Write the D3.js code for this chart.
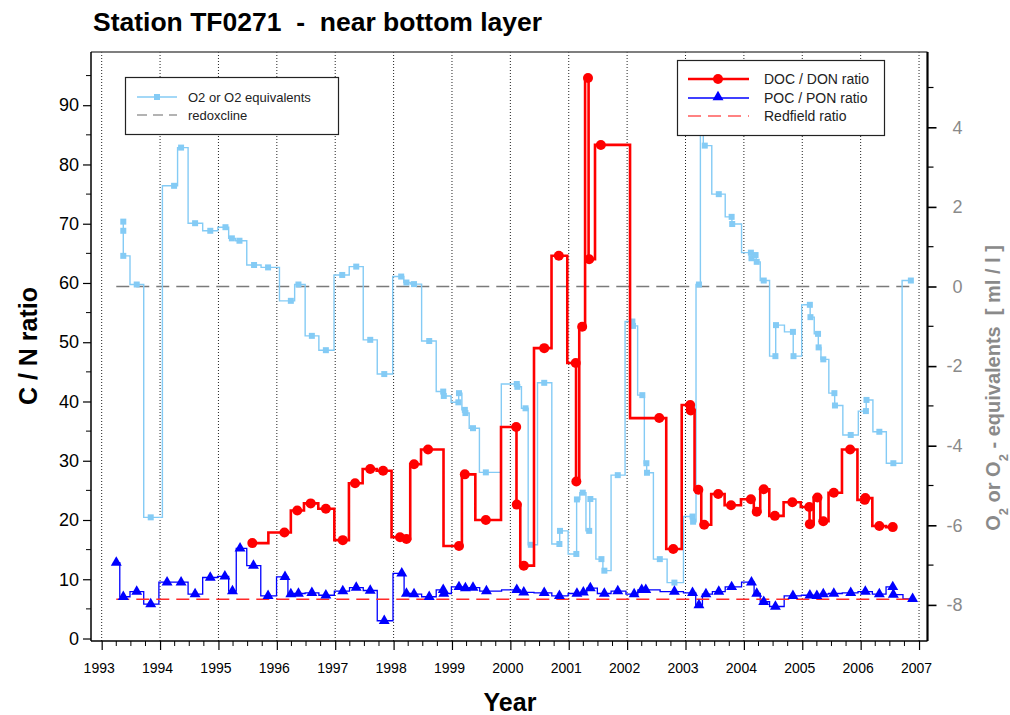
<!DOCTYPE html>
<html>
<head>
<meta charset="utf-8">
<script src="https://cdn.jsdelivr.net/npm/d3@7"></script>
<style>
  html, body { margin: 0; padding: 0; background: #fff; }
  svg { display: block; }
  text { font-family: "Liberation Sans", Arial, sans-serif; white-space: pre; }
</style>
</head>
<body>
<svg id="chart" width="1010" height="715"></svg>
<script>
// ---- data: station TF0271, near-bottom layer ----
// DOC / DON ratio (decimal year, C/N)
const docYears = [1995.58, 1996.13, 1996.35, 1996.58, 1996.84, 1997.13, 1997.34, 1997.60, 1997.82,
  1998.11, 1998.22, 1998.35, 1998.59, 1999.12, 1999.22, 1999.58, 2000.10, 2000.11, 2000.23,
  2000.58, 2000.83, 2001.12, 2001.13, 2001.23, 2001.33, 2001.35, 2001.55, 2002.55, 2002.79,
  2003.08, 2003.09, 2003.22, 2003.32, 2003.56, 2003.78, 2004.12, 2004.22, 2004.34, 2004.53,
  2004.83, 2005.12, 2005.13, 2005.26, 2005.36, 2005.54, 2005.82, 2006.07, 2006.08, 2006.32, 2006.55];
const docValues = [16.1, 17.9, 21.6, 22.8, 21.9, 16.6, 26.2, 28.6, 28.3,
  17.1, 16.8, 29.4, 31.9, 15.6, 27.7, 20.0, 35.7, 22.6, 12.3,
  49.0, 64.6, 46.5, 26.5, 52.6, 94.6, 64.0, 83.3, 37.2, 15.1,
  39.4, 38.5, 25.1, 19.2, 24.4, 22.5, 23.5, 21.4, 25.2, 20.7,
  23.0, 22.2, 19.3, 23.8, 19.8, 24.6, 31.9, 23.4, 23.7, 19.0, 18.8];

// POC / PON ratio (decimal year, C/N)
const pocYears = [1993.25, 1993.37, 1993.60, 1993.84, 1994.12, 1994.36, 1994.60, 1994.86, 1995.11,
  1995.24, 1995.37, 1995.60, 1995.85, 1996.14, 1996.24, 1996.37, 1996.60, 1996.84, 1997.13,
  1997.36, 1997.60, 1997.84, 1998.14, 1998.22, 1998.35, 1998.61, 1998.85, 1998.86, 1999.12,
  1999.23, 1999.36, 1999.59, 2000.11, 2000.23, 2000.58, 2000.84, 2001.14, 2001.25, 2001.37,
  2001.61, 2001.84, 2002.12, 2002.25, 2002.32, 2002.81, 2003.12, 2003.23, 2003.35, 2003.57,
  2003.79, 2004.13, 2004.22, 2004.34, 2004.54, 2004.84, 2005.13, 2005.25, 2005.36, 2005.54,
  2005.83, 2006.08, 2006.32, 2006.55, 2006.56, 2006.89];
const pocValues = [12.8, 7.05, 7.9, 5.8, 9.5, 9.5, 7.5, 10.3, 10.5,
  8.0, 15.2, 12.3, 7.2, 10.4, 7.5, 7.6, 7.7, 7.3, 8.0,
  8.6, 8.1, 3.0, 11.0, 7.6, 7.5, 7.05, 8.2, 7.6, 8.7,
  8.5, 8.6, 8.0, 8.2, 7.8, 7.7, 7.2, 7.6, 7.8, 8.5,
  7.6, 8.0, 7.5, 8.2, 8.2, 7.9, 7.7, 5.65, 7.5, 7.9,
  8.7, 9.5, 7.6, 6.2, 5.4, 7.2, 7.3, 7.2, 7.5, 7.6,
  7.7, 7.9, 7.5, 8.7, 7.4, 6.7];

// O2 or O2 equivalents (decimal year, ml/l)
const o2Years = [1993.37, 1993.37, 1993.37, 1993.60, 1993.84, 1994.24, 1994.36, 1994.60, 1994.86,
  1995.12, 1995.23, 1995.36, 1995.61, 1995.85, 1996.24, 1996.37, 1996.60, 1996.84, 1997.12,
  1997.36, 1997.60, 1997.84, 1998.13, 1998.22, 1998.35, 1998.61, 1998.85, 1998.86, 1999.11,
  1999.12, 1999.22, 1999.23, 1999.36, 1999.58, 2000.11, 2000.12, 2000.26, 2000.35, 2000.58,
  2000.84, 2000.85, 2001.13, 2001.14, 2001.24, 2001.35, 2001.37, 2001.56, 2001.61, 2001.84,
  2002.09, 2002.10, 2002.26, 2002.33, 2002.34, 2002.56, 2002.81, 2003.12, 2003.13, 2003.23,
  2003.28, 2003.33, 2003.57, 2003.79, 2003.80, 2004.12, 2004.13, 2004.20, 2004.22, 2004.34,
  2004.54, 2004.55, 2004.84, 2004.85, 2005.13, 2005.14, 2005.27, 2005.28, 2005.36, 2005.55,
  2005.56, 2005.83, 2006.09, 2006.10, 2006.32, 2006.56, 2006.86];
const o2Values = [1.63, 1.40, 0.77, 0.05, -5.80, 2.53, 3.49, 1.59, 1.40,
  1.49, 1.21, 1.15, 0.54, 0.48, -0.36, 0.05, -1.24, -1.60, 0.29,
  0.50, -1.34, -2.20, 0.25, 0.10, 0.06, -1.37, -2.64, -2.75, -2.91,
  -2.68, -3.10, -3.18, -3.56, -4.67, -2.45, -2.52, -3.06, -6.49, -2.42,
  -6.47, -6.14, -6.72, -5.35, -5.18, -6.14, -5.34, -6.85, -7.14, -4.74,
  -0.88, -0.99, -2.73, -4.44, -4.68, -6.85, -7.44, -5.78, -5.91, 0.05,
  4.8, 3.54, 2.32, 1.75, 1.57, 0.85, 0.71, 0.79, 0.62, 0.15,
  -1.75, -0.97, -1.14, -1.75, -0.46, -0.77, -1.19, -1.53, -1.83, -2.68,
  -2.99, -3.73, -3.13, -2.85, -3.65, -4.44, 0.15];

// reference levels
const redfieldRatio = 6.625;   // C/N
const redoxclineO2 = 0;        // ml/l
const referenceSpan = [1993.25, 2006.89];

// axis ticks
const yearTicks = d3.range(1993, 2008);
const cnTicks = d3.range(0, 91, 10);
const cnMinorTicks = d3.range(5, 96, 10);
const o2Ticks = [-8, -6, -4, -2, 0, 2, 4];
const o2MinorTicks = [-7, -5, -3, -1, 1, 3, 5];

// ---- layout ----
const svg = d3.select("#chart");
const plot = { left: 91, right: 927.5, top: 52, bottom: 641 };

const x = d3.scaleLinear().domain([1992.817, 2007.145]).range([plot.left, plot.right]);
const yL = d3.scaleLinear().domain([-0.42, 98.98]).range([plot.bottom, plot.top]);
const yR = d3.scaleLinear().domain([-8.907, 5.892]).range([plot.bottom, plot.top]);

const zip = (ts, vs) => ts.map((t, i) => ({ t, v: vs[i] }));
const docData = zip(docYears, docValues);
const pocData = zip(pocYears, pocValues);
const o2Data = zip(o2Years, o2Values);

const colO2 = "#84cbf5";
const colDoc = "#ff0000";
const colPoc = "#0000ff";

// vertical dotted year grid
svg.append("g").selectAll("line").data(yearTicks).join("line")
  .attr("x1", d => x(d)).attr("x2", d => x(d))
  .attr("y1", plot.top).attr("y2", plot.bottom)
  .attr("stroke", "#222").attr("stroke-width", 1).attr("stroke-dasharray", "1,2");

// redoxcline on the O2 axis
svg.append("line")
  .attr("x1", x(referenceSpan[0])).attr("x2", x(referenceSpan[1]))
  .attr("y1", yR(redoxclineO2)).attr("y2", yR(redoxclineO2))
  .attr("stroke", "#7a7a7a").attr("stroke-width", 1.3).attr("stroke-dasharray", "13,7");

// O2 step line with square markers
const stepL = d3.line().x(d => x(d.t)).y(d => yL(d.v)).curve(d3.curveStep);
const stepR = d3.line().x(d => x(d.t)).y(d => yR(d.v)).curve(d3.curveStep);

svg.append("path").datum(o2Data).attr("d", stepR)
  .attr("fill", "none").attr("stroke", colO2).attr("stroke-width", 1.4);
svg.append("g").selectAll("rect").data(o2Data).join("rect")
  .attr("x", d => x(d.t) - 3).attr("y", d => yR(d.v) - 3)
  .attr("width", 6).attr("height", 6).attr("fill", colO2);

// POC / PON step line
svg.append("path").datum(pocData).attr("d", stepL)
  .attr("fill", "none").attr("stroke", colPoc).attr("stroke-width", 1.3);

// Redfield ratio
svg.append("line")
  .attr("x1", x(referenceSpan[0])).attr("x2", x(referenceSpan[1]))
  .attr("y1", yL(redfieldRatio)).attr("y2", yL(redfieldRatio))
  .attr("stroke", "#ff2a2a").attr("stroke-width", 1.3).attr("stroke-dasharray", "13,7");

const tri = d3.symbol().type(d3.symbolTriangle).size(52);
svg.append("g").selectAll("path").data(pocData).join("path")
  .attr("d", tri)
  .attr("transform", d => `translate(${x(d.t)},${yL(d.v)})`)
  .attr("fill", colPoc);

// DOC / DON step line with circles
svg.append("path").datum(docData).attr("d", stepL)
  .attr("fill", "none").attr("stroke", colDoc).attr("stroke-width", 2.6);
svg.append("g").selectAll("circle").data(docData).join("circle")
  .attr("cx", d => x(d.t)).attr("cy", d => yL(d.v)).attr("r", 5)
  .attr("fill", colDoc);

// ---- axes ----
const axisFont = "\"Liberation Sans\", Arial, sans-serif";

// bottom (years)
const gx = svg.append("g").attr("transform", `translate(0,${plot.bottom})`)
  .call(d3.axisBottom(x).tickValues(yearTicks).tickSize(9).tickSizeOuter(0).tickFormat(d3.format("d")));
gx.select(".domain").remove();
gx.selectAll(".tick line").attr("stroke", "#000").attr("stroke-width", 1.2);
gx.selectAll(".tick text")
  .attr("font-family", "\"Liberation Sans Narrow\", \"Arial Narrow\", \"Liberation Sans\", sans-serif")
  .attr("font-size", 14).attr("fill", "#000").attr("dy", "1.4em").attr("dx", -3);
const minorYears = d3.range(1993, 2007.01, 0.25).filter(d => Math.abs(d - Math.round(d)) > 0.01);
svg.append("g").selectAll("line").data(minorYears).join("line")
  .attr("x1", d => x(d)).attr("x2", d => x(d))
  .attr("y1", plot.bottom).attr("y2", plot.bottom + 5)
  .attr("stroke", "#000").attr("stroke-width", 1);

// left (C/N)
const gl = svg.append("g").attr("transform", `translate(${plot.left},0)`)
  .call(d3.axisLeft(yL).tickValues(cnTicks).tickSize(8).tickPadding(4));
gl.select(".domain").remove();
gl.selectAll(".tick line").attr("stroke", "#000").attr("stroke-width", 1.2);
gl.selectAll(".tick text").attr("font-family", axisFont).attr("font-size", 18).attr("fill", "#000");
svg.append("g").selectAll("line").data(cnMinorTicks).join("line")
  .attr("x1", plot.left - 5).attr("x2", plot.left)
  .attr("y1", d => yL(d)).attr("y2", d => yL(d))
  .attr("stroke", "#000").attr("stroke-width", 1);

// right (O2)
const gr = svg.append("g").attr("transform", `translate(${plot.right},0)`)
  .call(d3.axisRight(yR).tickValues(o2Ticks).tickSize(9).tickPadding(4)
    .tickFormat(d => (d < 0 ? "-" + Math.abs(d) : String(d))));
gr.select(".domain").remove();
gr.selectAll(".tick line").attr("stroke", "#000").attr("stroke-width", 1.6);
gr.selectAll(".tick text").attr("font-family", axisFont).attr("font-size", 18)
  .attr("fill", "#8a8a8a").attr("text-anchor", "end").attr("x", 35);
svg.append("g").selectAll("line").data(o2MinorTicks).join("line")
  .attr("x1", plot.right).attr("x2", plot.right + 6)
  .attr("y1", d => yR(d)).attr("y2", d => yR(d))
  .attr("stroke", "#000").attr("stroke-width", 1.2);

// frame
svg.append("line").attr("x1", plot.left).attr("x2", plot.right)
  .attr("y1", plot.top).attr("y2", plot.top).attr("stroke", "#555").attr("stroke-width", 1.5);
svg.append("line").attr("x1", plot.left).attr("x2", plot.right)
  .attr("y1", plot.bottom).attr("y2", plot.bottom).attr("stroke", "#000").attr("stroke-width", 1.5);
svg.append("line").attr("x1", plot.left).attr("x2", plot.left)
  .attr("y1", plot.top).attr("y2", plot.bottom).attr("stroke", "#000").attr("stroke-width", 1.5);
svg.append("line").attr("x1", plot.right).attr("x2", plot.right)
  .attr("y1", plot.top).attr("y2", plot.bottom).attr("stroke", "#000").attr("stroke-width", 2.2);

// ---- titles ----
svg.append("text").attr("x", 93).attr("y", 31)
  .attr("font-size", 26.5).attr("font-weight", "bold").attr("fill", "#000")
  .text("Station TF0271  -  near bottom layer");

svg.append("text").attr("transform", "translate(37,346) rotate(-90)")
  .attr("text-anchor", "middle").attr("font-size", 25).attr("font-weight", "bold")
  .text("C / N ratio");

svg.append("text").attr("x", 510).attr("y", 710.5)
  .attr("text-anchor", "middle").attr("font-size", 25).attr("font-weight", "bold")
  .text("Year");

const rt = svg.append("text").attr("transform", "translate(1000,388) rotate(-90)")
  .attr("text-anchor", "middle").attr("font-size", 20).attr("font-weight", "bold")
  .attr("fill", "#8a8a8a");
rt.append("tspan").text("O");
rt.append("tspan").attr("baseline-shift", "sub").attr("font-size", 13).text("2");
rt.append("tspan").text(" or O");
rt.append("tspan").attr("baseline-shift", "sub").attr("font-size", 13).text("2");
rt.append("tspan").text(" - equivalents  [ ml / l ]");

// ---- legends ----
const lg1 = svg.append("g");
lg1.append("rect").attr("x", 125.5).attr("y", 77.5).attr("width", 213).attr("height", 57)
  .attr("fill", "#fff").attr("stroke", "#222").attr("stroke-width", 1.2);
lg1.append("line").attr("x1", 137).attr("x2", 177).attr("y1", 97).attr("y2", 97)
  .attr("stroke", colO2).attr("stroke-width", 1.4);
lg1.append("rect").attr("x", 154).attr("y", 94).attr("width", 6).attr("height", 6).attr("fill", colO2);
lg1.append("line").attr("x1", 137).attr("x2", 177).attr("y1", 115).attr("y2", 115)
  .attr("stroke", "#9a9a9a").attr("stroke-width", 1.3).attr("stroke-dasharray", "10,6");
lg1.append("text").attr("x", 188).attr("y", 101.5).attr("font-size", 13).attr("fill", "#222")
  .text("O2 or O2 equivalents");
lg1.append("text").attr("x", 188).attr("y", 119.5).attr("font-size", 13).attr("fill", "#222")
  .text("redoxcline");

const lg2 = svg.append("g");
lg2.append("rect").attr("x", 677.5).attr("y", 60.5).attr("width", 207).attr("height", 75)
  .attr("fill", "#fff").attr("stroke", "#222").attr("stroke-width", 1.2);
lg2.append("line").attr("x1", 688).attr("x2", 749).attr("y1", 79).attr("y2", 79)
  .attr("stroke", colDoc).attr("stroke-width", 2.6);
lg2.append("circle").attr("cx", 718).attr("cy", 79).attr("r", 5).attr("fill", colDoc);
lg2.append("line").attr("x1", 688).attr("x2", 749).attr("y1", 98).attr("y2", 98)
  .attr("stroke", colPoc).attr("stroke-width", 1.3);
lg2.append("path").attr("d", tri).attr("transform", "translate(718,97)").attr("fill", colPoc);
lg2.append("line").attr("x1", 688).attr("x2", 749).attr("y1", 116).attr("y2", 116)
  .attr("stroke", "#ff5a5a").attr("stroke-width", 1.5).attr("stroke-dasharray", "13,7");
const lgText = [["DOC / DON ratio", 84], ["POC / PON ratio", 102.5], ["Redfield ratio", 121]];
lg2.selectAll("text.lab").data(lgText).join("text")
  .attr("x", 764).attr("y", d => d[1]).attr("font-size", 14).attr("fill", "#222")
  .text(d => d[0]);
</script>
</body>
</html>
